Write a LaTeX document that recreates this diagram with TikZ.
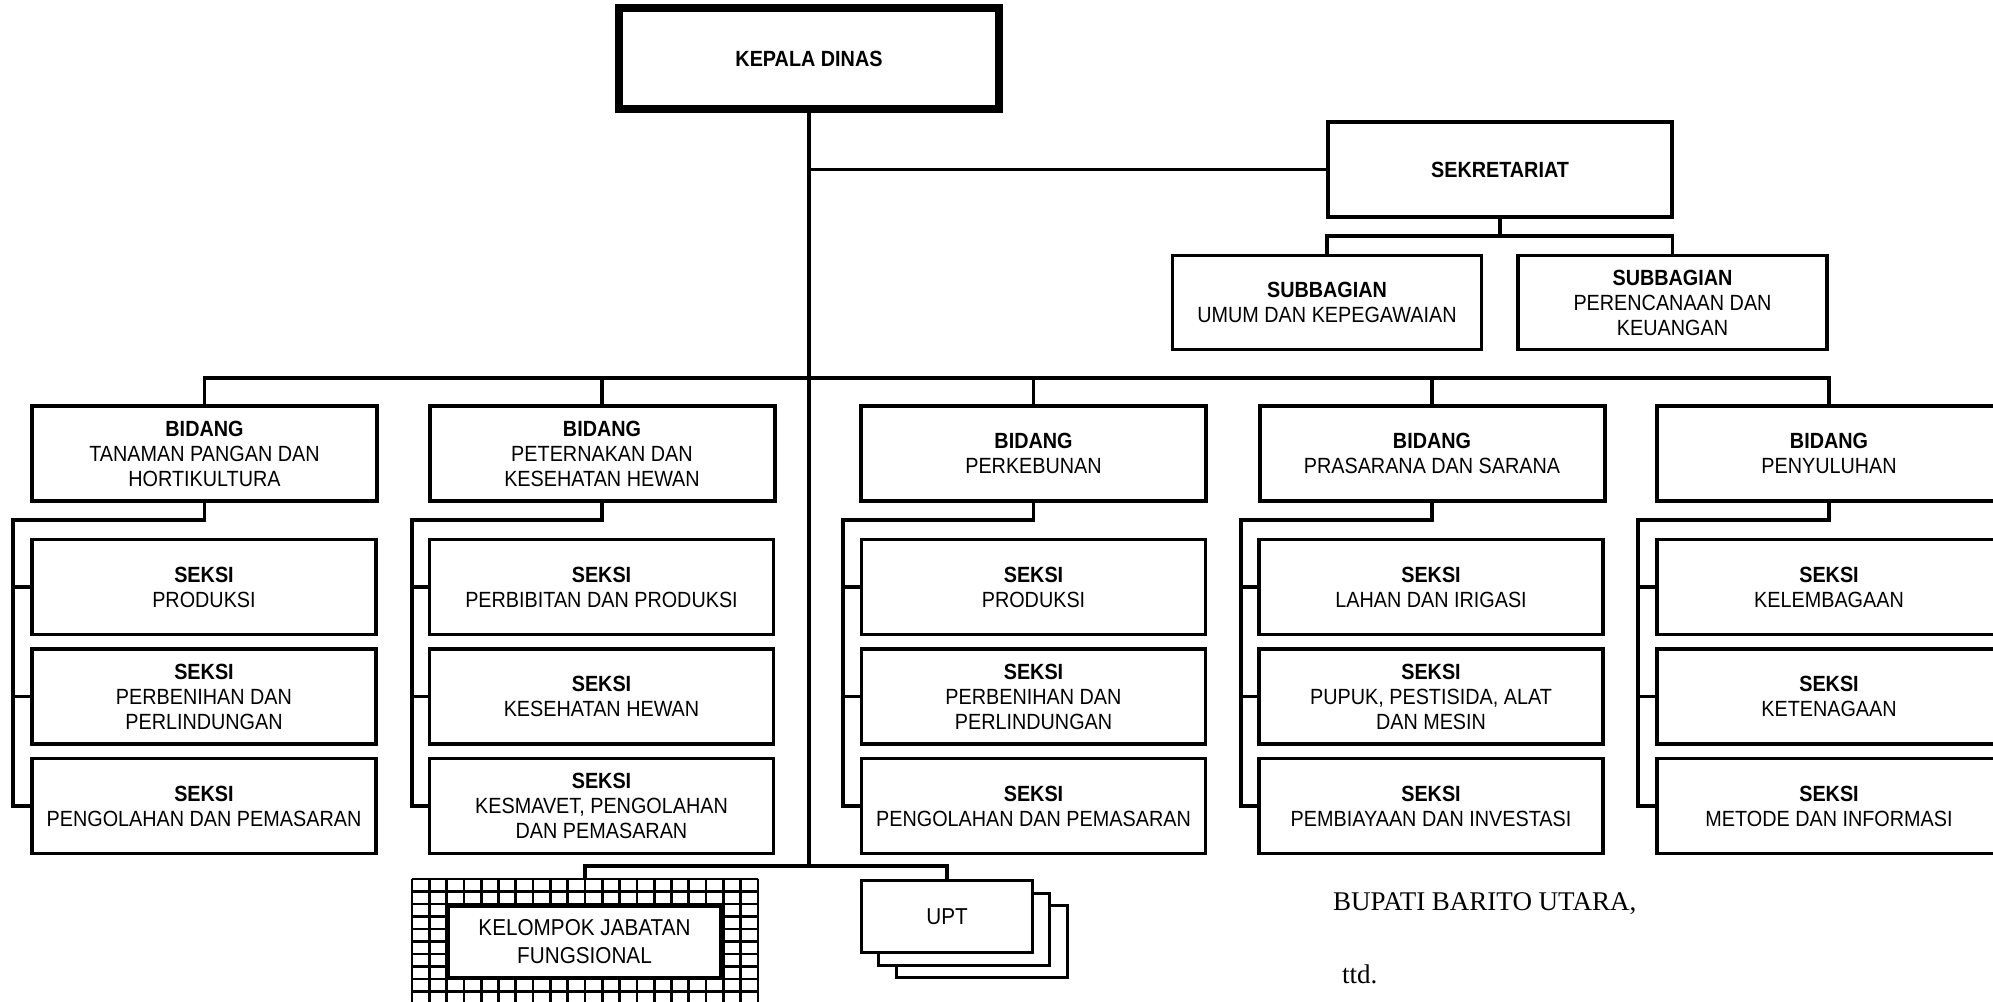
\documentclass[tikz,border=0pt]{standalone}
\usepackage{fontspec}
\newfontfamily\boxfont{Liberation Sans}[FakeStretch=0.9]
\newfontfamily\sigfont{Liberation Serif}
\begin{document}
\begin{tikzpicture}[x=1pt,y=-1pt,
  box/.style={draw, rectangle, inner sep=0pt, outer sep=0pt, align=center,
    fill=white, font=\boxfont\fontsize{22}{25}\selectfont},
  kepala/.style={box, line width=8pt, minimum width=380pt, minimum height=101pt},
  sekret/.style={box, line width=4pt, minimum width=344pt, minimum height=95pt},
  subbag/.style={box, line width=3.3pt, minimum width=309pt, minimum height=94pt},
  bidang/.style={box, line width=4pt, minimum width=345pt, minimum height=95pt},
  seksi/.style={box, line width=3.3pt, minimum width=344pt, minimum height=95pt},
  uptbox/.style={box, line width=3pt, minimum width=171pt, minimum height=72pt,
    font=\boxfont\fontsize{23}{28}\selectfont},
  fungsional/.style={box, line width=3pt, minimum width=272pt, minimum height=71pt,
    font=\boxfont\fontsize{23}{28}\selectfont},
  link/.style={line width=3.2pt},
  gridline/.style={line width=2.7pt},
  sig/.style={anchor=base west, inner sep=0pt, font=\sigfont\fontsize{27}{30}\selectfont}
]
\clip (0,0) rectangle (1993,1001);

% ---------- top level ----------
\node[kepala] (kd) at (809,58.5) {\textbf{KEPALA DINAS}};
\node[sekret] (sk) at (1500,169.5) {\textbf{SEKRETARIAT}};
\node[subbag] (sb1) at (1327,302.5) {\textbf{SUBBAGIAN}\\UMUM DAN KEPEGAWAIAN};
\node[subbag] (sb2) at (1672.5,302.5) {\textbf{SUBBAGIAN}\\PERENCANAAN DAN\\KEUANGAN};

% ---------- bidang ----------
\node[bidang] (b1) at (204.5,453.5) {\textbf{BIDANG}\\TANAMAN PANGAN DAN\\HORTIKULTURA};
\node[bidang] (b2) at (602,453.5) {\textbf{BIDANG}\\PETERNAKAN DAN\\KESEHATAN HEWAN};
\node[bidang] (b3) at (1033.5,453.5) {\textbf{BIDANG}\\PERKEBUNAN};
\node[bidang] (b4) at (1432,453.5) {\textbf{BIDANG}\\PRASARANA DAN SARANA};
\node[bidang] (b5) at (1829,453.5) {\textbf{BIDANG}\\PENYULUHAN};

% ---------- seksi ----------
\node[seksi] (s11) at (204,587) {\textbf{SEKSI}\\PRODUKSI};
\node[seksi] (s12) at (204,696.5) {\textbf{SEKSI}\\PERBENIHAN DAN\\PERLINDUNGAN};
\node[seksi] (s13) at (204,806) {\textbf{SEKSI}\\PENGOLAHAN DAN PEMASARAN};

\node[seksi] (s21) at (601.5,587) {\textbf{SEKSI}\\PERBIBITAN DAN PRODUKSI};
\node[seksi] (s22) at (601.5,696.5) {\textbf{SEKSI}\\KESEHATAN HEWAN};
\node[seksi] (s23) at (601.5,806) {\textbf{SEKSI}\\KESMAVET, PENGOLAHAN\\DAN PEMASARAN};

\node[seksi] (s31) at (1033.5,587) {\textbf{SEKSI}\\PRODUKSI};
\node[seksi] (s32) at (1033.5,696.5) {\textbf{SEKSI}\\PERBENIHAN DAN\\PERLINDUNGAN};
\node[seksi] (s33) at (1033.5,806) {\textbf{SEKSI}\\PENGOLAHAN DAN PEMASARAN};

\node[seksi] (s41) at (1431,587) {\textbf{SEKSI}\\LAHAN DAN IRIGASI};
\node[seksi] (s42) at (1431,696.5) {\textbf{SEKSI}\\PUPUK, PESTISIDA, ALAT\\DAN MESIN};
\node[seksi] (s43) at (1431,806) {\textbf{SEKSI}\\PEMBIAYAAN DAN INVESTASI};

\node[seksi] (s51) at (1829,587) {\textbf{SEKSI}\\KELEMBAGAAN};
\node[seksi] (s52) at (1829,696.5) {\textbf{SEKSI}\\KETENAGAAN};
\node[seksi] (s53) at (1829,806) {\textbf{SEKSI}\\METODE DAN INFORMASI};

% ---------- kelompok jabatan fungsional (grid frame) ----------
\node[inner sep=0pt, outer sep=0pt, minimum width=346pt, minimum height=122pt] (jfo) at (585,940) {};
\foreach \k in {0,...,20}
  \draw[gridline] ({412+\k*17.3},879) -- ({412+\k*17.3},1010);
\foreach \j in {0,...,10}
  \draw[gridline] (412,{879+\j*12.5}) -- (758,{879+\j*12.5});
\node[fungsional] (jf) at (584.5,942) {KELOMPOK JABATAN\\FUNGSIONAL};

% ---------- UPT (stacked) ----------
\node[uptbox] (upt3) at (982,941.5) {};
\node[uptbox] (upt2) at (964,929) {};
\node[uptbox] (upt) at (947,916.5) {UPT};

% ---------- connectors ----------
\coordinate (mainend) at (809,866);
\coordinate (bar) at (809,378);
\coordinate (skbar) at (1500,236);

\draw[link] (kd.south) -- (mainend);
\draw[link] (kd.south |- sk.west) -- (sk.west);
\draw[link] (sk.south) -- (skbar);
\draw[link] (sb1.north) |- (skbar) -| (sb2.north);

\draw[link] (b1.north) |- (bar) -| (b5.north);
\draw[link] (b2.north) -- (b2.north |- bar);
\draw[link] (b3.north) -- (b3.north |- bar);
\draw[link] (b4.north) -- (b4.north |- bar);

\foreach \c/\lx in {1/13, 2/412, 3/843, 4/1241, 5/1638}{
  \coordinate (t\c) at (\lx,520);
  \draw[link] (b\c.south) |- (t\c) |- (s\c3.west);
  \draw[link] (t\c |- s\c1.west) -- (s\c1.west);
  \draw[link] (t\c |- s\c2.west) -- (s\c2.west);
}

\draw[link] (jfo.north) |- (mainend) -| (upt.north);

% ---------- signature ----------
\node[sig] (bupati) at (1333,910) {BUPATI BARITO UTARA,};
\node[sig] (ttd) at (1342,983) {ttd.};
\end{tikzpicture}
\end{document}
